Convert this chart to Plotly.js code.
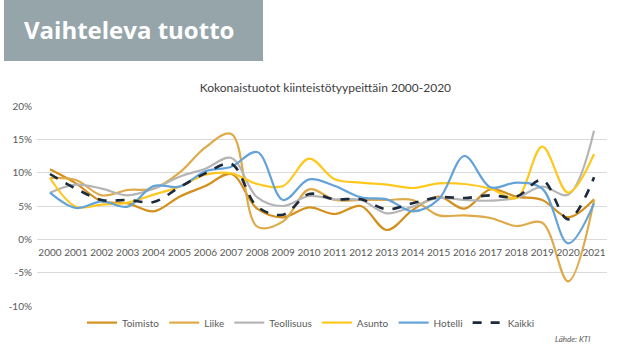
<!DOCTYPE html>
<html>
<head>
<meta charset="utf-8">
<script src="https://cdn.plot.ly/plotly-3.0.1.min.js"></script>
<style>
html,body{margin:0;padding:0;background:#fff;}
#chart{width:629px;height:349px;}
</style>
</head>
<body>
<div id="chart"></div>
<script>
const years = [2000,2001,2002,2003,2004,2005,2006,2007,2008,2009,2010,2011,2012,2013,2014,2015,2016,2017,2018,2019,2020,2021];
const toimisto   = [10.5, 8.4, 5.7, 5.4, 4.2, 6.4, 8.0, 9.8, 4.6, 3.3, 4.8, 3.8, 5.0, 1.4, 4.4, 6.4, 4.6, 7.5, 6.4, 5.9, 3.3, 6.0];
const liike      = [9.2, 8.9, 6.6, 7.4, 7.6, 10.0, 13.8, 15.8, 1.9, 2.7, 7.5, 5.9, 5.9, 5.9, 5.9, 3.6, 3.6, 3.2, 2.0, 2.5, -6.3, 5.9];
const teollisuus = [7.0, 8.2, 7.6, 6.6, 7.6, 9.4, 10.6, 12.2, 6.3, 5.0, 6.5, 6.0, 5.9, 3.9, 4.9, 6.2, 5.9, 5.8, 6.2, 7.9, 6.7, 16.3];
const asunto     = [9.2, 4.9, 5.2, 5.5, 6.7, 7.9, 9.7, 9.9, 8.3, 8.0, 12.1, 9.0, 8.5, 8.2, 7.7, 8.4, 8.3, 7.6, 6.2, 13.9, 7.0, 12.8];
const hotelli    = [7.0, 4.7, 5.7, 4.9, 8.0, 7.9, 10.2, 10.9, 13.1, 5.9, 9.0, 8.0, 6.3, 6.0, 4.2, 6.0, 12.5, 7.8, 8.5, 7.6, -0.6, 5.4];
const kaikki     = [9.8, 7.6, 5.9, 5.9, 5.6, 7.8, 9.9, 11.3, 4.9, 3.7, 6.8, 6.0, 6.0, 4.5, 5.4, 6.3, 6.2, 6.6, 6.4, 8.9, 3.0, 9.3];
const seriesNames = ["Toimisto","Liike","Teollisuus","Asunto","Hotelli","Kaikki"];
const yTickVals = [-10,-5,0,5,10,15,20];
const yTickText = ["-10%","-5%","0%","5%","10%","15%","20%"];

const seriesData = [toimisto, liike, teollisuus, asunto, hotelli, kaikki];
const colors = ["#D4901F","#DEAA4A","#B5B5B5","#FFC81E","#64A2D8","#1C2A3E"];
const traces = seriesData.map((d,i)=>({
  x: years.map(String), y: d, name: seriesNames[i], type:'scatter', mode:'lines',
  line:{color:colors[i], width: i===5?2.6:2.2, shape:'spline', smoothing:1, dash: i===5?'dash':'solid'},
  hoverinfo:'skip'
}));

const layout = {
  width:629, height:349,
  margin:{l:37, r:22, t:106, b:43},
  paper_bgcolor:'#fff', plot_bgcolor:'#fff',
  font:{family:'Lato, "Open Sans", sans-serif', color:'#595959', size:10},
  showlegend:true,
  legend:{orientation:'h', x:(311-37)/570, xanchor:'center', y:-0.083, yanchor:'middle',
          font:{size:10, color:'#595959'}, itemwidth:30, traceorder:'normal', tracegroupgap:0},
  title:{text:'Kokonaistuotot kiinteistötyypeittäin 2000-2020', x:0.506, xanchor:'center', xref:'paper',
         y:1-88/349, yanchor:'middle', yref:'container', font:{size:12, color:'#404040'}},
  xaxis:{type:'category', range:[-0.5, 21.5], anchor:'free', position:10/30, showgrid:false, zeroline:false, showline:false,
         ticks:'', tickfont:{size:10, color:'#595959'}, fixedrange:true, ticklabelstandoff:6},
  yaxis:{range:[-10,20], tickvals:yTickVals, ticktext:yTickText, showgrid:true, gridcolor:'#DADADA', gridwidth:1,
         zeroline:false, showline:false, ticks:'', tickfont:{size:10, color:'#595959'}, fixedrange:true, ticklabelstandoff:4},
  shapes:[{type:'rect', xref:'paper', yref:'paper', x0:(4-37)/570, x1:(263-37)/570, y0:(306.3-61)/200.3, y1:(306.3+2)/200.3,
           fillcolor:'#95A5AA', line:{width:0}, layer:'below'}],
  annotations:[
    {text:'<b>Vaihteleva tuotto</b>', xref:'paper', yref:'paper', x:(22-37)/570, y:(306.3-29)/200.3, xanchor:'left', yanchor:'middle',
     showarrow:false, font:{family:'"Open Sans", sans-serif', size:24, color:'#FFFFFF'}},
    {text:'<i>Lähde: KTI</i>', xref:'paper', yref:'paper', x:(592-37)/570, y:(306.3-339)/200.3, xanchor:'right', yanchor:'middle',
     showarrow:false, font:{size:8, color:'#595959'}}
  ]
};
Plotly.newPlot('chart', traces, layout, {staticPlot:true, displayModeBar:false});
</script>
</body>
</html>
